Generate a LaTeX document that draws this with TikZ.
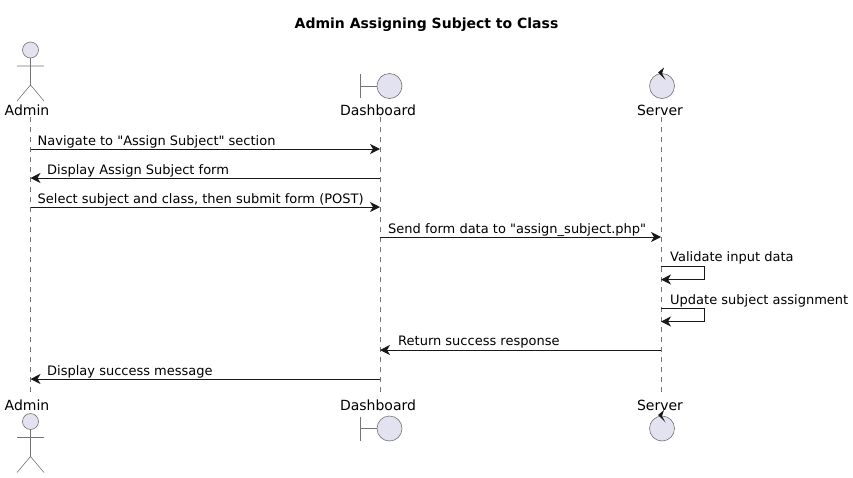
\documentclass[tikz,border=0pt]{standalone}
\usepackage{fontspec}
\newfontfamily\diagramfont{DejaVu Sans}
\usepackage{tikz}
\usetikzlibrary{arrows.meta}
\definecolor{partfill}{HTML}{E2E2F0}
\definecolor{partline}{HTML}{181818}
\tikzset{
	msgline/.style={draw=partline,line width=0.9pt,-{Stealth[length=10pt,width=10pt,inset=3pt]}},
	lifeline/.style={draw=partline!60,line width=0.5pt,dash pattern=on 5pt off 5pt},
	partshape/.style={draw=partline!60,line width=0.6pt,fill=partfill},
	partstroke/.style={draw=partline!60,line width=0.6pt},
	partlabel/.style={inner sep=0pt,font=\diagramfont\fontsize{14}{16}\selectfont},
	msglabel/.style={inner sep=0pt,anchor=base west,font=\diagramfont\fontsize{13}{15}\selectfont}
}
\newcommand{\actorfig}[1]{
	\draw[partshape] (30.5,#1) circle (8);
	\draw[partstroke] (30.5,#1+8) -- (30.5,#1+35) (17,#1+16) -- (44,#1+16) (17,#1+51) -- (30.5,#1+35) -- (44,#1+51);
}
\newcommand{\boundaryfig}[1]{
	\draw[partstroke] (360.5,#1-12) -- (360.5,#1+12) (360.5,#1) -- (377,#1);
	\draw[partshape] (389.5,#1) circle (12.5);
}
\newcommand{\controlfig}[1]{
	\draw[partshape] (662,#1) circle (12.5);
	\fill[partline] (658,#1-13.5) -- (664,#1-18.5) -- (662,#1-12.5) -- (665.5,#1-6) -- cycle;
}
\begin{document}
\begin{tikzpicture}[x=1pt,y=-1pt]
	\useasboundingbox (0,0) rectangle (853,477);
	\node (title) [inner sep=0pt,font=\diagramfont\bfseries\fontsize{14}{16}\selectfont] at (426.5,24.5) {Admin Assigning Subject to Class};
	% lifelines
	\coordinate (at) at (30.5,117); \coordinate (ab) at (30.5,394);
	\coordinate (dt) at (380,117); \coordinate (db) at (380,394);
	\coordinate (st) at (661,117); \coordinate (sb) at (661,394);
	\path[lifeline] (at) -- (ab) (dt) -- (db) (st) -- (sb);
	% participants, top and bottom
	\actorfig{50}
	\boundaryfig{86}
	\controlfig{86}
	\actorfig{421.5}
	\boundaryfig{428.5}
	\controlfig{428.5}
	\node (admintop) [partlabel] at (27,110) {Admin};
	\node (dashtop) [partlabel] at (378,110) {Dashboard};
	\node (servtop) [partlabel] at (660,110) {Server};
	\node (adminbot) [partlabel] at (27,405) {Admin};
	\node (dashbot) [partlabel] at (378,405) {Dashboard};
	\node (servbot) [partlabel] at (660,405) {Server};
	% message ends
	\foreach \y/\n in {149/1,178/2,207/3,237/4,350/7,379/8} {
		\coordinate (a\n) at (30.5,\y);
		\coordinate (d\n) at (380,\y);
		\coordinate (s\n) at (661,\y);
	}
	\coordinate (s5t) at (661,266); \coordinate (c5t) at (704.5,266);
	\coordinate (s5b) at (661,279.5); \coordinate (c5b) at (704.5,279.5);
	\coordinate (s6t) at (661,308.5); \coordinate (c6t) at (704.5,308.5);
	\coordinate (s6b) at (661,321.5); \coordinate (c6b) at (704.5,321.5);
	\path (a1) edge[msgline] (d1) (d2) edge[msgline] (a2) (a3) edge[msgline] (d3) (d4) edge[msgline] (s4)
		(s7) edge[msgline] (d7) (d8) edge[msgline] (a8);
	\draw[msgline] (s5t) -- (c5t) -- (c5b) -- (s5b);
	\draw[msgline] (s6t) -- (c6t) -- (c6b) -- (s6b);
	% message labels
	\node (m1) [msglabel] at (37.5,145) {Navigate to "Assign Subject" section};
	\node (m2) [msglabel] at (47,174) {Display Assign Subject form};
	\node (m3) [msglabel] at (37.5,203) {Select subject and class, then submit form (POST)};
	\node (m4) [msglabel] at (388,233) {Send form data to "assign\_subject.php"};
	\node (m5) [msglabel] at (670,261.5) {Validate input data};
	\node (m6) [msglabel] at (670,304) {Update subject assignment};
	\node (m7) [msglabel] at (398,345.5) {Return success response};
	\node (m8) [msglabel] at (47,375) {Display success message};
\end{tikzpicture}
\end{document}
